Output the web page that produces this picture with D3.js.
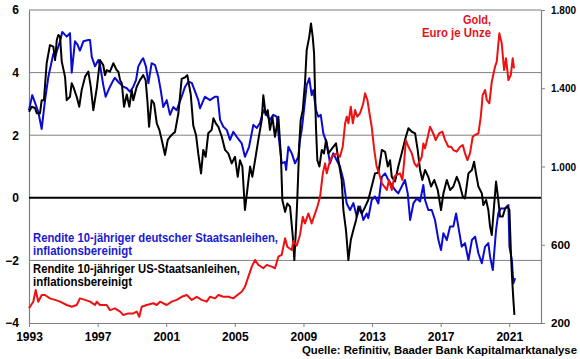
<!DOCTYPE html>
<html><head><meta charset="utf-8">
<script src="https://cdn.jsdelivr.net/npm/d3@7"></script>
<style>
html,body{margin:0;padding:0;background:#fff;}
svg{display:block;}
text{font-family:"Liberation Sans",Arial,sans-serif;font-weight:bold;}
</style>
</head><body>
<svg id="chart" width="580" height="359"></svg>
<script>
// [decimal year, real yield %]
const germanReal = [
[1993.00,2.8],[1993.19,3.28],[1993.54,2.75],[1993.74,2.2],[1993.93,3.1],[1994.13,3.87],[1994.42,4.6],[1994.52,4.5],
[1994.81,5.0],[1994.94,5.3],[1995.20,5.15],[1995.39,5.26],[1995.49,4.0],[1995.68,5.0],[1995.82,4.9],[1995.97,4.7],
[1996.17,5.0],[1996.46,5.04],[1996.56,5.04],[1996.66,4.5],[1996.85,4.2],[1997.04,4.4],[1997.14,4.25],[1997.33,3.6],
[1997.47,3.23],[1997.72,3.55],[1997.92,3.76],[1998.01,3.83],[1998.21,3.7],[1998.50,3.55],[1998.70,3.5],[1998.89,3.39],
[1999.08,3.55],[1999.24,3.76],[1999.37,4.19],[1999.57,4.4],[1999.66,4.46],[1999.82,4.19],[1999.96,3.66],[2000.15,4.3],
[2000.35,4.24],[2000.54,3.87],[2000.68,3.44],[2000.83,2.9],[2001.03,3.12],[2001.22,2.65],[2001.41,2.9],[2001.61,2.8],
[2001.90,3.23],[2002.10,3.55],[2002.29,3.71],[2002.49,3.67],[2002.68,3.4],[2002.87,3.12],[2002.97,2.86],[2003.26,3.23],
[2003.55,3.12],[2003.85,3.23],[2004.00,3.23],[2004.14,2.49],[2004.33,2.27],[2004.53,2.17],[2004.72,1.85],[2004.91,2.11],
[2005.11,1.95],[2005.40,1.74],[2005.59,1.31],[2005.83,1.63],[2006.08,2.33],[2006.28,2.23],[2006.47,2.39],[2006.66,2.8],
[2006.86,2.65],[2007.05,2.49],[2007.24,2.65],[2007.44,2.59],[2007.58,1.85],[2007.73,1.1],[2007.93,1.15],[2007.99,0.89],
[2008.12,1.63],[2008.32,1.42],[2008.51,1.1],[2008.70,1.31],[2008.80,1.85],[2008.90,2.17],[2009.03,2.8],[2009.19,3.6],
[2009.34,3.82],[2009.48,3.28],[2009.58,3.44],[2009.73,2.8],[2009.87,2.59],[2010.01,2.65],[2010.16,2.06],[2010.36,1.74],
[2010.55,1.1],[2010.74,1.42],[2010.94,1.2],[2011.13,1.0],[2011.33,0.57],[2011.52,-0.18],[2011.72,-0.39],[2011.91,-0.17],
[2012.11,-0.6],[2012.30,-0.28],[2012.49,-0.71],[2012.69,-0.5],[2012.78,-0.65],[2012.98,-0.07],[2013.17,0.04],[2013.37,-0.18],
[2013.57,0.67],[2013.76,0.78],[2013.95,0.57],[2014.15,0.41],[2014.34,0.25],[2014.53,0.14],[2014.73,0.36],[2014.92,0.57],
[2015.08,0.14],[2015.22,-0.71],[2015.41,-0.18],[2015.61,-0.02],[2015.80,-0.12],[2015.99,0.41],[2016.09,-0.07],[2016.28,-0.39],
[2016.48,-0.39],[2016.67,-0.71],[2016.87,-1.35],[2017.02,-1.67],[2017.16,-1.13],[2017.36,-1.35],[2017.55,-0.92],[2017.74,-0.92],
[2017.90,-0.5],[2018.03,-0.92],[2018.23,-1.56],[2018.42,-1.45],[2018.62,-1.99],[2018.82,-1.35],[2019.01,-1.24],[2019.20,-1.77],
[2019.40,-2.09],[2019.59,-1.56],[2019.78,-1.45],[2019.88,-1.88],[2020.04,-2.31],[2020.23,-1.03],[2020.36,-0.5],[2020.50,-0.34],
[2020.76,-0.34],[2020.95,-0.23],[2021.01,-1.56],[2021.15,-1.99],[2021.24,-2.73],[2021.34,-2.57]
];
const usReal = [
[1993.00,2.75],[1993.16,2.91],[1993.35,2.87],[1993.45,2.7],[1993.64,2.7],[1993.74,3.12],[1993.87,3.12],[1994.03,4.3],
[1994.22,4.88],[1994.42,4.83],[1994.52,4.4],[1994.62,5.04],[1994.71,5.2],[1994.81,5.15],[1994.91,4.35],[1995.10,3.87],
[1995.20,3.12],[1995.39,3.23],[1995.49,3.66],[1995.58,3.55],[1995.78,3.23],[1995.93,2.91],[1996.07,3.44],[1996.27,3.87],
[1996.46,4.03],[1996.60,3.55],[1996.75,2.8],[1996.95,3.5],[1997.14,4.4],[1997.33,4.24],[1997.43,3.92],[1997.53,4.08],
[1997.72,4.03],[1997.92,4.3],[1998.11,4.08],[1998.21,4.03],[1998.31,3.76],[1998.41,3.66],[1998.54,2.91],[1998.70,3.3],
[1998.85,2.91],[1998.99,3.44],[1999.08,3.12],[1999.28,3.55],[1999.47,3.76],[1999.66,3.92],[1999.80,3.76],[1999.90,3.12],
[2000.00,2.27],[2000.15,3.12],[2000.29,3.02],[2000.45,2.38],[2000.60,2.17],[2000.74,1.85],[2000.93,1.37],[2001.09,1.85],
[2001.22,1.95],[2001.41,2.06],[2001.51,2.1],[2001.71,2.7],[2001.90,3.8],[2002.10,3.85],[2002.23,3.92],[2002.43,3.3],
[2002.58,2.3],[2002.74,2.0],[2002.87,1.4],[2003.03,0.78],[2003.16,1.53],[2003.30,1.31],[2003.45,2.06],[2003.65,2.17],
[2003.75,2.54],[2003.89,2.38],[2004.04,2.27],[2004.24,1.95],[2004.43,1.53],[2004.62,1.42],[2004.82,1.1],[2005.01,1.31],
[2005.17,0.67],[2005.30,1.2],[2005.44,1.0],[2005.59,-0.39],[2005.75,0.36],[2005.89,1.0],[2006.02,0.67],[2006.18,1.2],
[2006.37,1.85],[2006.57,2.49],[2006.66,3.28],[2006.80,2.65],[2006.92,2.8],[2007.05,2.17],[2007.19,2.59],[2007.34,1.95],
[2007.54,2.59],[2007.69,1.31],[2007.77,-0.07],[2007.93,-0.45],[2008.06,-0.18],[2008.22,-0.28],[2008.38,-1.24],[2008.47,-1.99],
[2008.57,-0.92],[2008.64,-0.07],[2008.76,1.74],[2008.84,2.49],[2008.96,2.8],[2009.09,3.66],[2009.19,4.72],[2009.34,5.15],
[2009.44,5.57],[2009.54,5.15],[2009.62,4.62],[2009.73,2.27],[2009.81,1.2],[2009.93,1.0],[2010.07,1.53],[2010.20,1.42],
[2010.32,1.85],[2010.45,1.42],[2010.74,1.63],[2010.90,1.74],[2011.04,1.2],[2011.23,0.57],[2011.33,-0.39],[2011.48,-1.03],
[2011.62,-1.99],[2011.76,-1.35],[2011.91,-1.03],[2012.07,-0.71],[2012.20,-0.28],[2012.40,-0.5],[2012.59,-0.3],[2012.78,-0.07],
[2012.98,0.36],[2013.17,0.78],[2013.37,0.8],[2013.57,1.53],[2013.76,1.47],[2013.92,1.0],[2014.05,1.2],[2014.15,0.67],
[2014.34,0.52],[2014.53,1.0],[2014.73,1.42],[2014.92,1.85],[2015.12,2.22],[2015.32,2.11],[2015.51,2.06],[2015.66,1.53],
[2015.80,0.89],[2015.93,0.57],[2016.09,0.89],[2016.28,0.67],[2016.44,0.36],[2016.63,0.57],[2016.83,0.25],[2017.02,-0.39],
[2017.16,0.14],[2017.36,0.57],[2017.55,0.25],[2017.74,0.36],[2017.94,0.67],[2018.09,0.46],[2018.29,0.04],[2018.42,-0.02],
[2018.62,0.78],[2018.82,0.89],[2018.95,1.15],[2019.06,0.78],[2019.20,0.36],[2019.40,0.14],[2019.49,-0.23],[2019.65,-0.07],
[2019.78,-0.39],[2019.88,-0.92],[2019.98,-1.19],[2020.11,-0.28],[2020.23,0.52],[2020.36,-0.07],[2020.46,-0.6],[2020.62,-0.6],
[2020.76,-0.34],[2020.89,-0.28],[2021.01,-0.39],[2021.09,-1.67],[2021.16,-2.52],[2021.24,-3.27],[2021.30,-3.74]
];
// [decimal year, gold price EUR per ounce]
const goldEur = [
[1993.00,275],[1993.25,309],[1993.39,369],[1993.54,309],[1993.74,343],[1993.93,343],[1994.22,326],[1994.52,318],
[1994.81,309],[1995.20,292],[1995.49,283],[1995.78,292],[1995.97,326],[1996.27,318],[1996.56,309],[1996.85,292],
[1996.95,309],[1997.14,292],[1997.53,292],[1997.72,266],[1998.01,275],[1998.31,258],[1998.50,241],[1998.79,249],
[1999.08,249],[1999.28,258],[1999.43,232],[1999.57,283],[1999.86,292],[2000.25,301],[2000.45,292],[2000.64,309],
[2001.03,292],[2001.32,309],[2001.61,318],[2001.90,334],[2002.20,343],[2002.49,318],[2002.78,334],[2003.07,318],
[2003.36,309],[2003.55,334],[2003.85,326],[2004.04,343],[2004.33,334],[2004.62,334],[2004.91,326],[2005.15,343],
[2005.40,360],[2005.59,385],[2005.79,437],[2005.99,488],[2006.18,522],[2006.37,497],[2006.66,480],[2006.86,497],
[2007.15,488],[2007.34,480],[2007.54,539],[2007.73,548],[2007.93,633],[2008.06,590],[2008.32,573],[2008.41,620],
[2008.61,595],[2008.80,650],[2008.96,743],[2009.09,709],[2009.29,760],[2009.48,709],[2009.68,760],[2009.81,794],
[2009.97,845],[2010.13,965],[2010.26,1016],[2010.36,965],[2010.51,1016],[2010.65,1050],[2010.94,1067],[2011.13,1050],
[2011.29,1101],[2011.43,1221],[2011.53,1255],[2011.62,1221],[2011.76,1306],[2011.88,1221],[2012.01,1289],[2012.14,1255],
[2012.30,1272],[2012.49,1323],[2012.59,1374],[2012.73,1340],[2012.88,1255],[2012.98,1203],[2013.13,1084],[2013.27,999],
[2013.41,965],[2013.57,914],[2013.72,897],[2013.86,880],[2013.99,931],[2014.15,880],[2014.30,948],[2014.44,957],
[2014.63,965],[2014.77,931],[2014.88,1033],[2014.97,1135],[2015.12,1101],[2015.32,1067],[2015.47,1016],[2015.61,999],
[2015.90,1050],[2015.99,1118],[2016.09,1093],[2016.25,1152],[2016.38,1203],[2016.57,1169],[2016.71,1135],[2016.91,1169],
[2017.10,1178],[2017.26,1135],[2017.45,1101],[2017.61,1101],[2017.74,1084],[2017.94,1076],[2018.13,1101],[2018.29,1110],
[2018.42,1067],[2018.56,1033],[2018.71,1067],[2018.87,1152],[2019.01,1161],[2019.20,1169],[2019.34,1255],[2019.45,1365],
[2019.59,1391],[2019.69,1340],[2019.84,1323],[2019.98,1433],[2020.17,1510],[2020.27,1536],[2020.42,1681],[2020.56,1630],
[2020.70,1493],[2020.81,1553],[2020.95,1442],[2021.09,1468],[2021.20,1553],[2021.28,1502]
];
const yearTicks = [1993,1997,2001,2005,2009,2013,2017,2021];
const leftTicks = [-4,-2,0,2,4,6];
const rightTicks = [200,600,1000,1400,1800];
const gridValues = [6,4,2,-2];

const L = 29, R = 541, T = 10, B = 323;
const svg = d3.select("#chart");
const x = d3.scaleLinear().domain([1993, 2022.85]).range([L, R]);
const yL = d3.scaleLinear().domain([-4, 6]).range([B, T]);
const yR = d3.scaleLinear().domain([200, 1800]).range([B, T]);
const de = d3.formatLocale({decimal: ",", thousands: ".", grouping: [3], currency: ["", "€"]});

// gridlines
svg.append("g").selectAll("line").data(gridValues).join("line")
  .attr("x1", L).attr("x2", R).attr("y1", d => yL(d)).attr("y2", d => yL(d))
  .attr("stroke", d => d === 6 ? "#a6a6a6" : "#808080").attr("stroke-width", d => d === 6 ? 1.5 : 1);

// axes
const ax = svg.append("g").attr("transform", `translate(0,${B})`)
  .call(d3.axisBottom(x).tickValues(yearTicks).tickFormat(d3.format("d")).tickSize(4).tickSizeOuter(0).tickPadding(5));
const ay = svg.append("g").attr("transform", `translate(${L},0)`)
  .call(d3.axisLeft(yL).tickValues(leftTicks).tickSize(0).tickPadding(10));
const ar = svg.append("g").attr("transform", `translate(${R},0)`)
  .call(d3.axisRight(yR).tickValues(rightTicks).tickSize(4).tickSizeOuter(0).tickPadding(6).tickFormat(de.format(",")));
[ax, ay, ar].forEach(g => {
  g.select(".domain").attr("stroke", "#808080").attr("stroke-width", 1.2);
  g.selectAll(".tick line").attr("stroke", "#808080");
  g.selectAll("text").attr("font-size", 12).attr("font-weight", "bold").attr("fill", "#000")
    .attr("font-family", '"Liberation Sans",Arial,sans-serif');
});
ar.selectAll("text").attr("font-size", 11.5)
  .each(function(d) { if (d >= 1000) d3.select(this).attr("textLength", 25).attr("lengthAdjust", "spacingAndGlyphs"); });

// zero line
svg.append("line").attr("x1", L).attr("x2", R).attr("y1", yL(0)).attr("y2", yL(0))
  .attr("stroke", "#000").attr("stroke-width", 2);

const lineL = d3.line().x(d => x(d[0])).y(d => yL(d[1]));
const lineR = d3.line().x(d => x(d[0])).y(d => yR(d[1]));
svg.append("path").datum(germanReal).attr("d", lineL).attr("fill", "none")
  .attr("stroke", "#0a0ad2").attr("stroke-width", 2).attr("stroke-linejoin", "round");
svg.append("path").datum(usReal).attr("d", lineL).attr("fill", "none")
  .attr("stroke", "#000").attr("stroke-width", 2).attr("stroke-linejoin", "round");
svg.append("path").datum(goldEur).attr("d", lineR).attr("fill", "none")
  .attr("stroke", "#ee1111").attr("stroke-width", 2).attr("stroke-linejoin", "round");

// labels
function label(txt, xx, yy, color, w, anchor, fs) {
  const t = svg.append("text").attr("x", xx).attr("y", yy).attr("fill", color)
    .attr("font-size", fs || 12).attr("text-anchor", anchor || "start").text(txt);
  if (w) t.attr("textLength", w).attr("lengthAdjust", "spacingAndGlyphs");
}
label("Rendite 10-jähriger deutscher Staatsanleihen,", 33, 242, "#1a1ad0", 245);
label("inflationsbereinigt", 33, 254.5, "#1a1ad0", 99);
label("Rendite 10-jähriger US-Staatsanleihen,", 33, 273, "#000", 207);
label("inflationsbereinigt", 33, 285.5, "#000", 99);
label("Gold,", 491, 24, "#e3141e", 28, "end");
label("Euro je Unze", 491, 37, "#e3141e", 69, "end");
label("Quelle: Refinitiv, Baader Bank Kapitalmarktanalyse", 577, 353.5, "#000", 275, "end", 11.5);
</script>
</body></html>
